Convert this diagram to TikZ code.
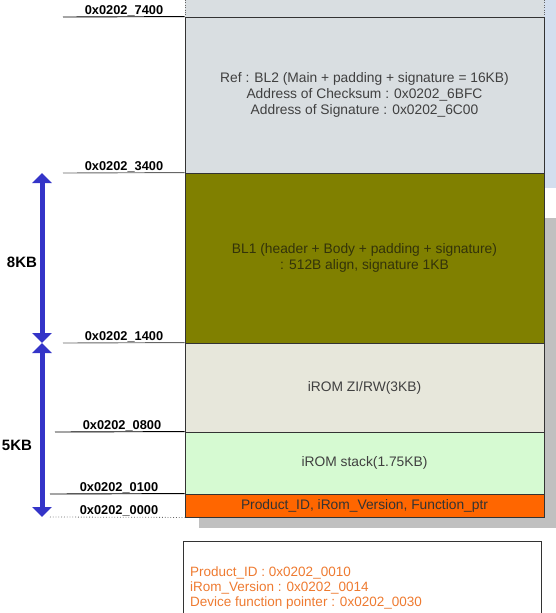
\documentclass[tikz,border=0pt]{standalone}
\usepackage{fontspec}
\setmainfont{Liberation Sans}
\usetikzlibrary{arrows.meta}
\definecolor{bgblue}{HTML}{D3DEEE}
\definecolor{shadowgray}{HTML}{C0C0C0}
\definecolor{bltwo}{HTML}{D9DEE1}
\definecolor{blone}{HTML}{808000}
\definecolor{zirw}{HTML}{E7E7DB}
\definecolor{stackgreen}{HTML}{D6FAD2}
\definecolor{prodorange}{HTML}{FF6600}
\definecolor{arrowblue}{HTML}{3434C8}
\definecolor{notetext}{HTML}{EE7A30}
\definecolor{blonetext}{HTML}{33330A}
\tikzset{
  memblock/.style={draw=black!80, line width=0.9, minimum width=359, inner sep=0, align=center, font=\fontsize{13.8}{16}\selectfont, text=black!75},
  addr/.style={font=\bfseries\fontsize{12.8}{13}\selectfont, anchor=base, inner sep=0},
  addrline/.style={draw=black, line width=0.9},
  kb/.style={font=\bfseries\fontsize{15}{15}\selectfont, inner sep=0},
  sizearrow/.style={draw=arrowblue, line width=5, {Triangle[width=19,length=10]}-{Triangle[width=19,length=10]}},
}
\begin{document}
\begin{tikzpicture}[x=1pt,y=-1pt]
\useasboundingbox (0,0) rectangle (556,613);
% background areas
\fill[bgblue] (544,0) rectangle (556,188);
\fill[shadowgray] (199,218) rectangle (556,528);
% top continuation
\fill[bltwo] (185,0) rectangle (544,17);
\draw[black!60, dotted] (185,0) -- (185,17) (544,0) -- (544,17);
% memory blocks
\node[memblock, fill=bltwo, minimum height=156] (bl2) at (364.5,95)
  {Ref : BL2 (Main + padding + signature = 16KB)\\Address of Checksum : 0x0202\_6BFC\\Address of Signature : 0x0202\_6C00};
\node[memblock, fill=blone, text=blonetext, minimum height=170] (bl1) at (364.5,258)
  {BL1 (header + Body + padding + signature)\\: 512B align, signature 1KB};
\node[memblock, fill=zirw, minimum height=89] (zirwb) at (364.5,387.5) {iROM ZI/RW(3KB)};
\node[memblock, fill=stackgreen, minimum height=62] (stk) at (364.5,463) {iROM stack(1.75KB)};
\node[memblock, fill=prodorange, text=black!80, minimum height=23] (prod) at (364.5,505.5) {Product\_ID, iRom\_Version, Function\_ptr};
% address labels and lines
\coordinate (l7400) at (63,17);
\coordinate (l3400) at (63,173);
\coordinate (l1400) at (63,343);
\coordinate (l0800) at (55,432);
\coordinate (l0100) at (50,494);
\coordinate (l0000) at (50,517);
\draw[addrline] (l7400) -- (bl2.north west);
\draw[addrline, black!60] (l3400) -- (bl1.north west);
\draw[addrline, black!60] (l1400) -- (zirwb.north west);
\draw[addrline] (l0800) -- (stk.north west);
\draw[addrline] (l0100) -- (prod.north west);
\draw[black!60, dotted, line width=0.8] (l0000) -- (prod.south west);
\node[addr] (a7400) at (124,14) {0x0202\_7400};
\node[addr] (a3400) at (124,170) {0x0202\_3400};
\node[addr] (a1400) at (124,340) {0x0202\_1400};
\node[addr] (a0800) at (122,429) {0x0202\_0800};
\node[addr] (a0100) at (119,491) {0x0202\_0100};
\node[addr] (a0000) at (119,514) {0x0202\_0000};
% size arrows
\coordinate (s8t) at (42,173);
\coordinate (s8b) at (42,343);
\coordinate (s5t) at (42,343);
\coordinate (s5b) at (42,517);
\draw[sizearrow] (s8t) -- (s8b);
\draw[sizearrow] (s5t) -- (s5b);
\node[kb] (k8) at (22,262) {8KB};
\node[kb] (k5) at (17,445) {5KB};
% note box
\draw[black!80, line width=0.9] (183,625) -- (183,541) -- (541,541) -- (541,625);
\node[anchor=base west, align=left, inner sep=0, text=notetext, font=\fontsize{13.5}{15}\selectfont] (note) at (190,606)
  {Product\_ID : 0x0202\_0010\\iRom\_Version : 0x0202\_0014\\Device function pointer : 0x0202\_0030};
\end{tikzpicture}
\end{document}
